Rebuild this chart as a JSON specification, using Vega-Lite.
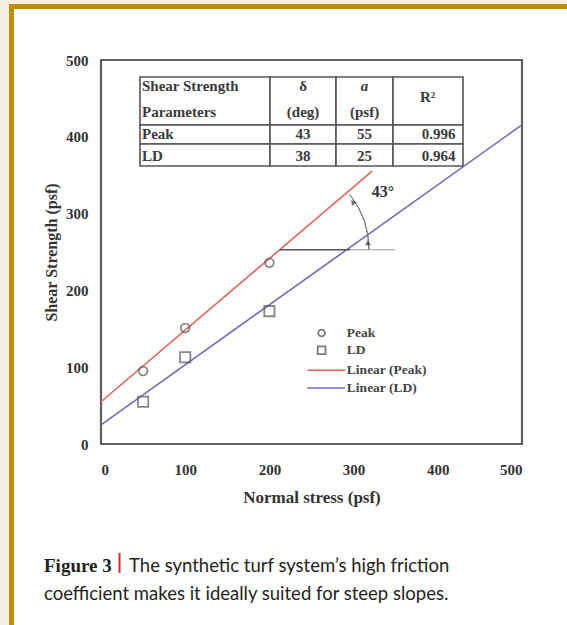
{
  "$schema": "https://vega.github.io/schema/vega-lite/v6.json",
  "width": 421,
  "height": 384,
  "autosize": {"type": "none"},
  "padding": {"left": 101, "top": 60, "right": 45, "bottom": 181},
  "background": "#f7eedf",
  "config": {"view": {"stroke": null}},
  "datasets": {
    "frame": [{"x": -106.3, "x2": 700, "y": 569.7, "y2": -400}],
    "plotbox": [{"x": 0, "x2": 500, "y": 0, "y2": 500}],
    "cells": [
      {"x": 46.3, "x2": 200.7, "y": 415.4, "y2": 477.9},
      {"x": 200.7, "x2": 279.1, "y": 415.4, "y2": 477.9},
      {"x": 279.1, "x2": 346.8, "y": 415.4, "y2": 477.9},
      {"x": 346.8, "x2": 429.9, "y": 415.4, "y2": 477.9},
      {"x": 46.3, "x2": 200.7, "y": 390.6, "y2": 415.4},
      {"x": 200.7, "x2": 279.1, "y": 390.6, "y2": 415.4},
      {"x": 279.1, "x2": 346.8, "y": 390.6, "y2": 415.4},
      {"x": 346.8, "x2": 429.9, "y": 390.6, "y2": 415.4},
      {"x": 46.3, "x2": 200.7, "y": 362.0, "y2": 390.6},
      {"x": 200.7, "x2": 279.1, "y": 362.0, "y2": 390.6},
      {"x": 279.1, "x2": 346.8, "y": 362.0, "y2": 390.6},
      {"x": 346.8, "x2": 429.9, "y": 362.0, "y2": 390.6}
    ],
    "tableCenter": [
      {"t": "δ", "x": 240, "y": 465.5},
      {"t": "(deg)", "x": 240, "y": 432},
      {"t": "(psf)", "x": 313, "y": 432},
      {"t": "R²", "x": 388, "y": 451.8},
      {"t": "43", "x": 240, "y": 403.2},
      {"t": "55", "x": 313, "y": 403.2},
      {"t": "0.996", "x": 401, "y": 403.2},
      {"t": "38", "x": 240, "y": 375.5},
      {"t": "25", "x": 313, "y": 375.5},
      {"t": "0.964", "x": 401, "y": 375.5}
    ],
    "tableLeft": [
      {"t": "Shear Strength", "x": 48.7, "y": 465.5},
      {"t": "Parameters", "x": 48.7, "y": 432},
      {"t": "Peak", "x": 48.7, "y": 403.2},
      {"t": "LD", "x": 48.7, "y": 375.5}
    ],
    "tableItalic": [{"t": "a", "x": 313, "y": 465.5}],
    "fits": [
      {"series": "Peak", "x": 0, "y": 55},
      {"series": "Peak", "x": 322, "y": 355.3},
      {"series": "LD", "x": 0, "y": 25},
      {"series": "LD", "x": 500, "y": 415.6}
    ],
    "peak": [{"x": 50, "y": 95}, {"x": 100, "y": 151}, {"x": 200, "y": 236}],
    "ld": [{"x": 50, "y": 55}, {"x": 100, "y": 113}, {"x": 200, "y": 173}],
    "legCircle": [{"x": 262, "y": 144.5}],
    "legSquare": [{"x": 262, "y": 122}],
    "legLines": [
      {"series": "Peak", "x": 245, "x2": 290, "y": 96},
      {"series": "LD", "x": 245, "x2": 290, "y": 73}
    ],
    "legText": [
      {"t": "Peak", "x": 292, "y": 144.5},
      {"t": "LD", "x": 292, "y": 122},
      {"t": "Linear (Peak)", "x": 292, "y": 96},
      {"t": "Linear (LD)", "x": 292, "y": 73}
    ],
    "hDark": [{"x": 212.6, "x2": 296, "y": 253}],
    "hLight": [{"x": 296, "x2": 349, "y": 253}],
    "arcCenter": [{"x": 212.6, "y": 253}],
    "arrowTop": [{"x": 299, "y": 315}],
    "arrowBottom": [{"x": 317, "y": 262}],
    "angleText": [{"t": "43°", "x": 335, "y": 328}],
    "capBold": [{"t": "Figure 3", "x": -67.7, "y": -166.7}],
    "capBar": [{"x": 22.0, "y": -141.9, "y2": -168}],
    "capText": [
      {"t": "The synthetic turf system’s high friction", "x": 33.3, "y": -166.7},
      {"t": "coefficient makes it ideally suited for steep slopes.", "x": -67.7, "y": -203}
    ]
  },
  "layer": [
    {
      "data": {"name": "frame"},
      "mark": {"type": "rect", "fill": "#ffffff", "stroke": "#bf8c0c", "strokeWidth": 5},
      "encoding": {
        "x": {"field": "x", "type": "quantitative", "scale": {"domain": [0, 500], "nice": false, "zero": false},
              "axis": {"values": [0, 100, 200, 300, 400, 500], "title": "Normal stress (psf)", "ticks": false, "domain": false, "grid": false,
                       "labelFont": "Liberation Serif", "labelFontWeight": "bold", "labelFontSize": 15, "labelColor": "#333333", "labelPadding": 18,
                       "titleFont": "Liberation Serif", "titleFontWeight": "bold", "titleFontSize": 17, "titleColor": "#333333", "titlePadding": 12, "zindex": 1}},
        "x2": {"field": "x2"},
        "y": {"field": "y", "type": "quantitative", "scale": {"domain": [0, 500], "nice": false, "zero": false},
              "axis": {"values": [0, 100, 200, 300, 400, 500], "title": "Shear Strength (psf)", "ticks": false, "domain": false, "grid": false,
                       "labelFont": "Liberation Serif", "labelFontWeight": "bold", "labelFontSize": 15, "labelColor": "#333333", "labelPadding": 13,
                       "titleFont": "Liberation Serif", "titleFontWeight": "bold", "titleFontSize": 16, "titleColor": "#333333", "titlePadding": 6, "zindex": 1}},
        "y2": {"field": "y2"}
      }
    },
    {
      "data": {"name": "plotbox"},
      "mark": {"type": "rect", "fill": null, "stroke": "#665e5e", "strokeWidth": 2.2},
      "encoding": {
        "x": {"field": "x", "type": "quantitative"},
        "x2": {"field": "x2"},
        "y": {"field": "y", "type": "quantitative"},
        "y2": {"field": "y2"}
      }
    },
    {
      "data": {"name": "fits"},
      "mark": {"type": "line", "strokeWidth": 1.6},
      "encoding": {
        "x": {"field": "x", "type": "quantitative"},
        "y": {"field": "y", "type": "quantitative"},
        "color": {"field": "series", "type": "nominal", "scale": {"domain": ["Peak", "LD"], "range": ["#e0675a", "#7668bf"]}, "legend": null}
      }
    },
    {
      "data": {"name": "cells"},
      "mark": {"type": "rect", "fill": "#ffffff", "stroke": "#555555", "strokeWidth": 1.6},
      "encoding": {
        "x": {"field": "x", "type": "quantitative"},
        "x2": {"field": "x2"},
        "y": {"field": "y", "type": "quantitative"},
        "y2": {"field": "y2"}
      }
    },
    {
      "data": {"name": "tableCenter"},
      "mark": {"type": "text", "font": "Liberation Serif", "fontSize": 15, "fontWeight": "bold", "color": "#3a3a3a", "align": "center", "baseline": "middle"},
      "encoding": {
        "x": {"field": "x", "type": "quantitative"},
        "y": {"field": "y", "type": "quantitative"},
        "text": {"field": "t"}
      }
    },
    {
      "data": {"name": "tableLeft"},
      "mark": {"type": "text", "font": "Liberation Serif", "fontSize": 15, "fontWeight": "bold", "color": "#3a3a3a", "align": "left", "baseline": "middle"},
      "encoding": {
        "x": {"field": "x", "type": "quantitative"},
        "y": {"field": "y", "type": "quantitative"},
        "text": {"field": "t"}
      }
    },
    {
      "data": {"name": "tableItalic"},
      "mark": {"type": "text", "font": "Liberation Serif", "fontSize": 15, "fontWeight": "bold", "fontStyle": "italic", "color": "#3a3a3a", "align": "center", "baseline": "middle"},
      "encoding": {
        "x": {"field": "x", "type": "quantitative"},
        "y": {"field": "y", "type": "quantitative"},
        "text": {"field": "t"}
      }
    },
    {
      "data": {"name": "peak"},
      "mark": {"type": "point", "shape": "circle", "filled": false, "size": 75, "stroke": "#555555", "strokeWidth": 1.8},
      "encoding": {
        "x": {"field": "x", "type": "quantitative"},
        "y": {"field": "y", "type": "quantitative"}
      }
    },
    {
      "data": {"name": "ld"},
      "mark": {"type": "point", "shape": "square", "filled": false, "size": 105, "stroke": "#555555", "strokeWidth": 1.8},
      "encoding": {
        "x": {"field": "x", "type": "quantitative"},
        "y": {"field": "y", "type": "quantitative"}
      }
    },
    {
      "data": {"name": "legCircle"},
      "mark": {"type": "point", "shape": "circle", "filled": false, "size": 45, "stroke": "#444444", "strokeWidth": 1.8},
      "encoding": {
        "x": {"field": "x", "type": "quantitative"},
        "y": {"field": "y", "type": "quantitative"}
      }
    },
    {
      "data": {"name": "legSquare"},
      "mark": {"type": "point", "shape": "square", "filled": false, "size": 60, "stroke": "#444444", "strokeWidth": 1.8},
      "encoding": {
        "x": {"field": "x", "type": "quantitative"},
        "y": {"field": "y", "type": "quantitative"}
      }
    },
    {
      "data": {"name": "legLines"},
      "mark": {"type": "rule", "strokeWidth": 1.6},
      "encoding": {
        "x": {"field": "x", "type": "quantitative"},
        "x2": {"field": "x2"},
        "y": {"field": "y", "type": "quantitative"},
        "color": {"field": "series", "type": "nominal", "legend": null}
      }
    },
    {
      "data": {"name": "legText"},
      "mark": {"type": "text", "font": "Liberation Serif", "fontSize": 13.5, "fontWeight": "bold", "color": "#444444", "align": "left", "baseline": "middle"},
      "encoding": {
        "x": {"field": "x", "type": "quantitative"},
        "y": {"field": "y", "type": "quantitative"},
        "text": {"field": "t"}
      }
    },
    {
      "data": {"name": "hDark"},
      "mark": {"type": "rule", "stroke": "#555555", "strokeWidth": 1.6},
      "encoding": {
        "x": {"field": "x", "type": "quantitative"},
        "x2": {"field": "x2"},
        "y": {"field": "y", "type": "quantitative"}
      }
    },
    {
      "data": {"name": "hLight"},
      "mark": {"type": "rule", "stroke": "#9a9a9a", "strokeWidth": 1},
      "encoding": {
        "x": {"field": "x", "type": "quantitative"},
        "x2": {"field": "x2"},
        "y": {"field": "y", "type": "quantitative"}
      }
    },
    {
      "data": {"name": "arcCenter"},
      "mark": {"type": "arc", "filled": false, "fill": null, "stroke": "#777777", "strokeWidth": 1, "theta": 0.9, "theta2": 1.5708, "radius": 89, "radius2": 89},
      "encoding": {
        "x": {"field": "x", "type": "quantitative"},
        "y": {"field": "y", "type": "quantitative"}
      }
    },
    {
      "data": {"name": "arrowTop"},
      "mark": {"type": "point", "shape": "triangle-up", "filled": true, "size": 35, "color": "#333333", "angle": -38},
      "encoding": {
        "x": {"field": "x", "type": "quantitative"},
        "y": {"field": "y", "type": "quantitative"}
      }
    },
    {
      "data": {"name": "arrowBottom"},
      "mark": {"type": "point", "shape": "triangle-up", "filled": true, "size": 35, "color": "#333333"},
      "encoding": {
        "x": {"field": "x", "type": "quantitative"},
        "y": {"field": "y", "type": "quantitative"}
      }
    },
    {
      "data": {"name": "angleText"},
      "mark": {"type": "text", "font": "Liberation Serif", "fontSize": 16, "fontWeight": "bold", "color": "#333333", "align": "center", "baseline": "middle"},
      "encoding": {
        "x": {"field": "x", "type": "quantitative"},
        "y": {"field": "y", "type": "quantitative"},
        "text": {"field": "t"}
      }
    },
    {
      "data": {"name": "capBold"},
      "mark": {"type": "text", "font": "Liberation Serif", "fontSize": 19, "fontWeight": "bold", "color": "#231f20", "align": "left", "baseline": "alphabetic"},
      "encoding": {
        "x": {"field": "x", "type": "quantitative"},
        "y": {"field": "y", "type": "quantitative"},
        "text": {"field": "t"}
      }
    },
    {
      "data": {"name": "capBar"},
      "mark": {"type": "rule", "stroke": "#cf2a2e", "strokeWidth": 2},
      "encoding": {
        "x": {"field": "x", "type": "quantitative"},
        "y": {"field": "y", "type": "quantitative"},
        "y2": {"field": "y2"}
      }
    },
    {
      "data": {"name": "capText"},
      "mark": {"type": "text", "font": "Lato", "fontSize": 18.5, "color": "#231f20", "align": "left", "baseline": "alphabetic"},
      "encoding": {
        "x": {"field": "x", "type": "quantitative"},
        "y": {"field": "y", "type": "quantitative"},
        "text": {"field": "t"}
      }
    }
  ]
}
